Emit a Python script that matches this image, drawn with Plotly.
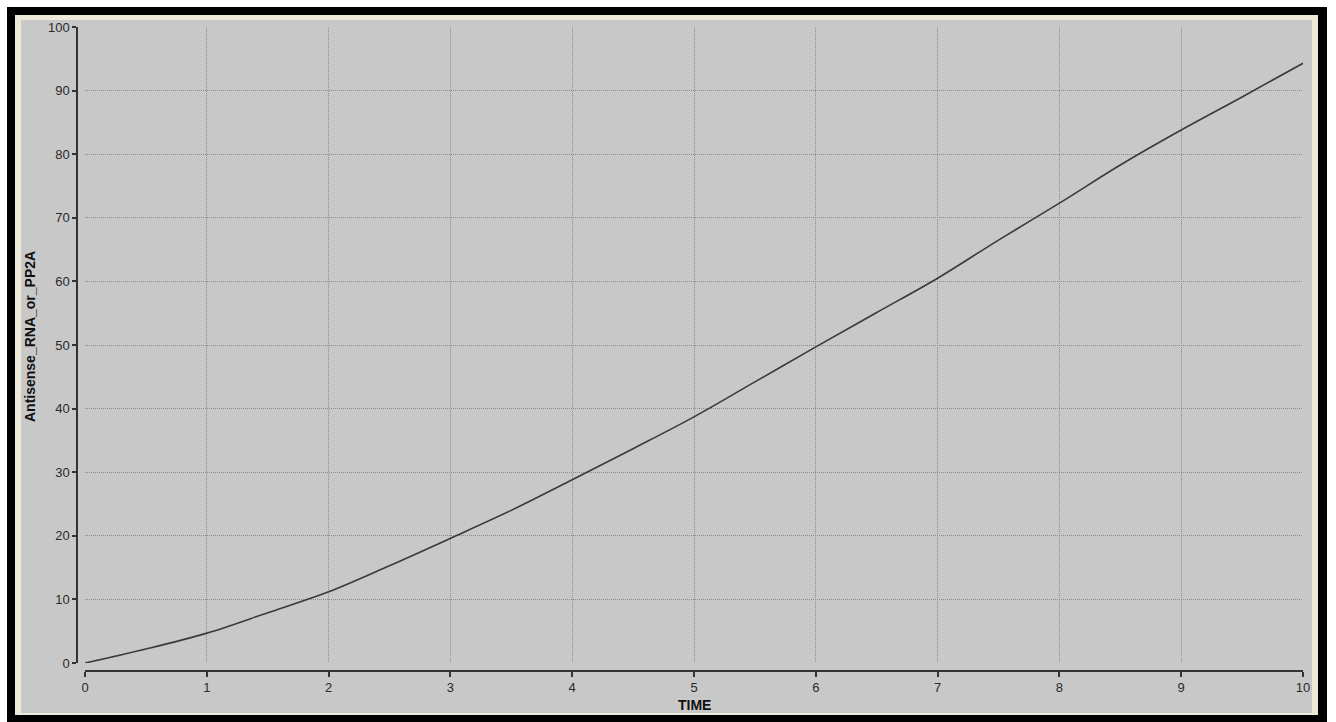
import plotly.graph_objects as go

# Simulated trajectory of Antisense_RNA_or_PP2A over time
time = [0, 0.5, 1, 1.5, 2, 2.5, 3, 3.5, 4, 4.5, 5, 5.5, 6, 6.5, 7, 7.5, 8, 8.5, 9, 9.5, 10]
antisense = [0, 2.2, 4.7, 7.9, 11.2, 15.3, 19.6, 24.0, 28.8, 33.7, 38.7, 44.2, 49.7,
             55.1, 60.5, 66.5, 72.3, 78.3, 83.8, 89.0, 94.3]

x_ticks = list(range(0, 11))
y_ticks = list(range(0, 101, 10))

W, H = 1336, 722


def px(x):
    return x / W


def py(y):
    return 1 - y / H


fig = go.Figure()
fig.add_trace(go.Scatter(
    x=time, y=antisense, mode="lines", line_shape="spline",
    line=dict(color="#3a3a3a", width=1.6), hoverinfo="x+y", showlegend=False,
))

GRAY = "#c8c8c8"
CREAM = "#ece9d8"

shapes = [
    # window frame
    dict(type="rect", xref="paper", yref="paper", x0=px(7), x1=px(1327), y0=py(722), y1=py(7),
         fillcolor="black", line_width=0, layer="below"),
    dict(type="rect", xref="paper", yref="paper", x0=px(15), x1=px(1318), y0=py(715), y1=py(15),
         fillcolor=CREAM, line_width=0, layer="below"),
    dict(type="rect", xref="paper", yref="paper", x0=px(21), x1=px(1312), y0=py(713), y1=py(20),
         fillcolor=GRAY, line_width=0, layer="below"),
]

FAMILY = "Liberation Sans, Arial, sans-serif"
tick_font = dict(family=FAMILY, size=13, color="#2a2a2a")
title_font = dict(family=FAMILY, size=14, color="#111")
grid = dict(showgrid=True, gridcolor="#8c8c8c", griddash="1px,1px", gridwidth=1)

fig.update_layout(
    width=W, height=H,
    margin=dict(l=0, r=0, t=0, b=0, pad=0, autoexpand=False),
    paper_bgcolor="white",
    plot_bgcolor="rgba(0,0,0,0)",
    font=tick_font,
    shapes=shapes,
    xaxis=dict(
        domain=[px(85), px(1303)], range=[0, 10],
        tickvals=x_ticks, ticktext=[str(v) for v in x_ticks], tickfont=tick_font,
        anchor="free", position=py(671), automargin=False,
        showline=True, linecolor="#333", linewidth=1.5,
        ticks="outside", ticklen=5, tickcolor="#333", tickwidth=1.5,
        zeroline=False, fixedrange=True, **grid,
    ),
    yaxis=dict(
        domain=[py(663), py(27)], range=[0, 100],
        tickvals=y_ticks, ticktext=[str(v) for v in y_ticks], tickfont=tick_font,
        anchor="free", position=px(77), automargin=False,
        showline=True, linecolor="#333", linewidth=1.5,
        ticks="outside", ticklen=4, tickcolor="#333", tickwidth=1.5,
        zeroline=False, fixedrange=True, **grid,
    ),
    annotations=[
        dict(text="<b>TIME</b>", xref="paper", yref="paper", x=px(694), y=py(705),
             xanchor="center", yanchor="middle", showarrow=False, font=title_font),
        dict(text="<b>Antisense_RNA_or_PP2A</b>", xref="paper", yref="paper", x=px(30), y=py(337),
             xanchor="center", yanchor="middle", textangle=-90, showarrow=False, font=title_font),
    ],
)

fig.write_html("out.html")
